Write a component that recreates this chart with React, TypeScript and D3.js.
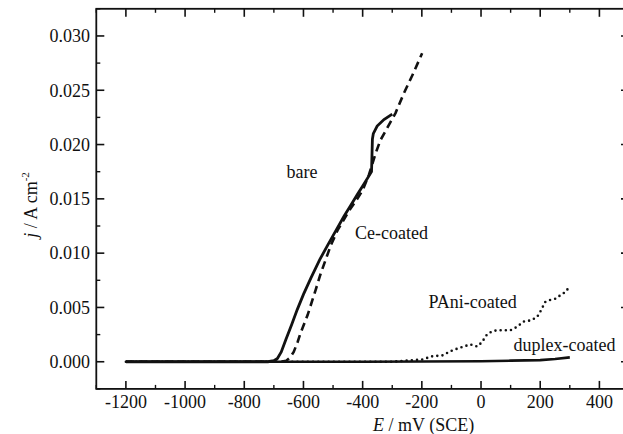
import React from "react";
import * as d3 from "d3";

// potential (mV vs SCE) and current density (A cm^-2)
const bare: [number, number][] = [
  [-1200, 0], [-900, 0], [-720, 0], [-700, 0.0001], [-688, 0.0003], [-675, 0.0009],
  [-660, 0.002], [-640, 0.0034], [-621, 0.0048], [-600, 0.0062], [-575, 0.0077],
  [-545, 0.0094], [-519, 0.0107], [-490, 0.0121], [-463, 0.0134], [-440, 0.0144],
  [-418, 0.0154], [-395, 0.0164], [-370, 0.0175], [-367, 0.0205], [-364, 0.021],
  [-351, 0.0217], [-328, 0.0223], [-300, 0.0228],
];

const ceCoated: [number, number][] = [
  [-1200, 0], [-900, 0], [-675, 0], [-658, 0.0001], [-645, 0.0004], [-633, 0.0009],
  [-620, 0.0018], [-609, 0.0027], [-586, 0.0043], [-559, 0.0066], [-542, 0.0081],
  [-508, 0.0107], [-485, 0.0121], [-446, 0.0139], [-418, 0.015], [-400, 0.0158],
  [-379, 0.0172], [-356, 0.0192], [-340, 0.0204], [-289, 0.0229], [-261, 0.0247],
  [-230, 0.0265], [-199, 0.0284],
];

const paniCoated: [number, number][] = [
  [-1200, 0], [-300, 0], [-255, 0.0001], [-200, 0.0002], [-165, 0.0005], [-127, 0.0006],
  [-109, 0.0009], [-92, 0.0011], [-59, 0.0014], [-36, 0.0016], [-13, 0.0014], [3, 0.0018],
  [20, 0.0025], [37, 0.0028], [54, 0.0029], [99, 0.0029], [121, 0.0032], [144, 0.0037],
  [166, 0.0038], [189, 0.0041], [200, 0.0046], [217, 0.0055], [234, 0.0057],
  [251, 0.0058], [267, 0.0061], [284, 0.0064], [296, 0.0068],
];

const duplexCoated: [number, number][] = [
  [-1200, 0], [-400, 0], [0, 0.00005], [100, 0.0001], [200, 0.00015], [250, 0.00025],
  [300, 0.0004],
];

const xTicks = [-1200, -1000, -800, -600, -400, -200, 0, 200, 400];
const xMinor = [-1300, -1100, -900, -700, -500, -300, -100, 100, 300, 500];
const yTicks = [0, 0.005, 0.01, 0.015, 0.02, 0.025, 0.03];
const yMinor = [-0.0025, 0.0025, 0.0075, 0.0125, 0.0175, 0.0225, 0.0275, 0.0325];

const W = 623;
const H = 434;
const font = '"Liberation Serif", "DejaVu Serif", serif';

export default function App() {
  const x = d3.scaleLinear().domain([-1300, 500]).range([96.3, 629]);
  const y = d3.scaleLinear().domain([-0.0025, 0.0325]).range([388.9, 8.8]);
  const line = d3
    .line<[number, number]>()
    .x((d) => x(d[0]))
    .y((d) => y(d[1]));

  const [x0, x1] = x.range();
  const [y0, y1] = y.range();
  const major = 8;
  const minor = 4;
  const txt = { fontFamily: font, fontSize: 18, fill: "#111" };

  return (
    <svg
      width={W}
      height={H}
      style={{ position: "absolute", left: 0, top: 0, background: "#fff", fontFamily: font }}
    >
      {/* curves */}
      <path d={line(duplexCoated) || ""} fill="none" stroke="#111" strokeWidth={2.6} />
      <path
        d={line(paniCoated) || ""}
        fill="none"
        stroke="#111"
        strokeWidth={2.6}
        strokeDasharray="0 5.2"
        strokeLinecap="round"
      />
      <path
        d={line(ceCoated) || ""}
        fill="none"
        stroke="#111"
        strokeWidth={2.6}
        strokeDasharray="8 5"
      />
      <path d={line(bare) || ""} fill="none" stroke="#111" strokeWidth={2.8} />

      {/* frame */}
      <rect x={x0} y={y1} width={x1 - x0} height={y0 - y1} fill="none" stroke="#111" strokeWidth={1.8} />

      {/* x ticks, bottom and top, inward */}
      {xTicks.map((t) => (
        <g key={"xt" + t} stroke="#111" strokeWidth={1.6}>
          <line x1={x(t)} x2={x(t)} y1={y0} y2={y0 - major} />
          <line x1={x(t)} x2={x(t)} y1={y1} y2={y1 + major} />
        </g>
      ))}
      {xMinor.map((t) => (
        <g key={"xm" + t} stroke="#111" strokeWidth={1.4}>
          <line x1={x(t)} x2={x(t)} y1={y0} y2={y0 - minor} />
          <line x1={x(t)} x2={x(t)} y1={y1} y2={y1 + minor} />
        </g>
      ))}
      {xTicks.map((t) => (
        <text key={"xl" + t} x={x(t)} y={408} textAnchor="middle" style={txt}>
          {t}
        </text>
      ))}

      {/* y ticks, left and right, inward */}
      {yTicks.map((t) => (
        <g key={"yt" + t} stroke="#111" strokeWidth={1.6}>
          <line x1={x0} x2={x0 + major} y1={y(t)} y2={y(t)} />
          <line x1={x1} x2={x1 - major} y1={y(t)} y2={y(t)} />
        </g>
      ))}
      {yMinor.map((t) => (
        <g key={"ym" + t} stroke="#111" strokeWidth={1.4}>
          <line x1={x0} x2={x0 + minor} y1={y(t)} y2={y(t)} />
          <line x1={x1} x2={x1 - minor} y1={y(t)} y2={y(t)} />
        </g>
      ))}
      {yTicks.map((t) => (
        <text key={"yl" + t} x={90} y={y(t)} dy="0.35em" textAnchor="end" style={txt}>
          {d3.format(".3f")(t)}
        </text>
      ))}

      {/* axis titles */}
      <text x={373} y={431} style={txt}>
        <tspan fontStyle="italic">E</tspan> / mV (SCE)
      </text>
      <text transform="translate(37,205) rotate(-90)" textAnchor="middle" style={txt}>
        <tspan fontStyle="italic">j</tspan> / A cm
        <tspan fontSize={11} dy={-8}>-2</tspan>
      </text>

      {/* curve labels */}
      <text x={286.5} y={178} style={txt}>bare</text>
      <text x={355} y={238.5} style={txt}>Ce-coated</text>
      <text x={428.5} y={307.5} style={txt}>PAni-coated</text>
      <text x={513.5} y={351} style={txt}>duplex-coated</text>
    </svg>
  );
}
